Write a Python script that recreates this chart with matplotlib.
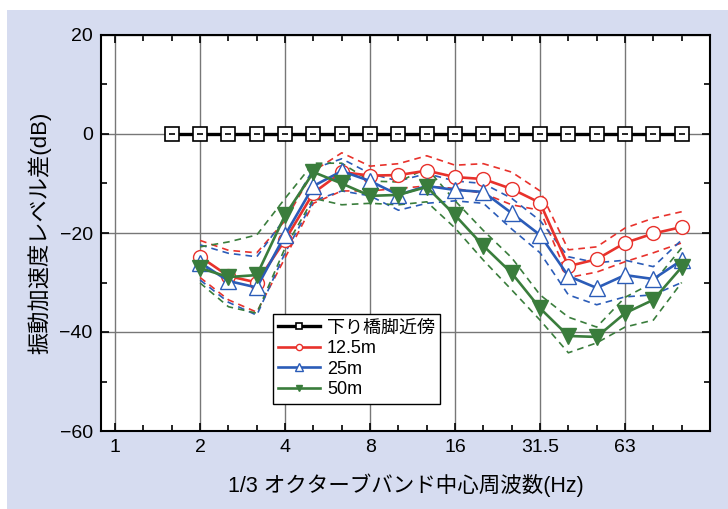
import matplotlib.pyplot as plt
from matplotlib.patches import Rectangle

plt.rcParams['font.family'] = ['Liberation Sans', 'Noto Sans CJK JP', 'DejaVu Sans']

# 1/3 octave band centre frequencies (Hz), positions are band index
bands = ['1', '1.25', '1.6', '2', '2.5', '3.15', '4', '5', '6.3', '8', '10', '12.5',
         '16', '20', '25', '31.5', '40', '50', '63', '80', '100', '125']
major_labels = ['1', '2', '4', '8', '16', '31.5', '63']

ref_bands = bands[2:21]
ref = [0] * len(ref_bands)

data_bands = bands[3:21]
red = [-24.8, -28.7, -30.0, -21.4, -11.9, -7.7, -8.4, -8.3, -7.4, -8.7, -9.1, -11.1,
       -13.9, -26.7, -25.3, -22.0, -20.1, -18.8]
red_hi = [-21.5, -23.5, -24.0, -17.5, -7.5, -3.8, -6.5, -6.0, -4.4, -6.3, -6.0, -7.7,
          -11.5, -23.4, -22.8, -19.0, -17.0, -15.7]
red_lo = [-29.0, -33.5, -36.0, -25.0, -14.0, -11.5, -11.5, -11.0, -10.5, -11.0, -12.0, -14.3,
          -15.4, -29.0, -27.9, -25.8, -24.0, -22.0]
blue = [-26.0, -29.7, -31.0, -20.4, -10.5, -7.5, -9.5, -12.3, -10.5, -11.3, -11.7, -16.0,
        -20.4, -28.7, -31.1, -28.5, -29.3, -25.5]
blue_hi = [-22.4, -24.1, -24.8, -17.0, -7.0, -5.0, -8.0, -9.5, -8.0, -9.5, -10.0, -13.0,
           -17.5, -24.8, -26.0, -25.5, -26.8, -21.4]
blue_lo = [-29.5, -34.0, -36.6, -24.0, -13.5, -11.5, -12.5, -15.4, -14.0, -13.5, -14.0, -19.2,
           -24.0, -32.5, -34.5, -32.9, -32.5, -30.0]
green = [-27.1, -28.9, -28.5, -16.4, -7.7, -10.0, -12.5, -12.3, -10.7, -16.4, -22.6, -28.1,
         -35.2, -40.8, -41.0, -36.2, -33.5, -26.9]
green_hi = [-22.8, -21.8, -20.4, -13.0, -5.9, -5.9, -9.5, -9.7, -6.9, -13.5, -19.5, -25.0,
            -32.5, -37.0, -39.0, -33.0, -30.0, -23.0]
green_lo = [-30.1, -34.9, -36.2, -23.0, -13.0, -14.3, -14.0, -14.3, -13.7, -19.0, -25.5, -31.5,
            -37.6, -44.2, -42.2, -39.0, -37.6, -30.0]

labels = ['下り橋脚近傍', '12.5m', '25m', '50m']
RED = '#e8322c'
BLUE = '#2b5cb8'
GREEN = '#3a7d3c'


def pos(names):
    return [bands.index(n) for n in names]


fig = plt.figure(figsize=(7.28, 5.09), dpi=100)
fig.patches.append(Rectangle((7 / 728, 0), 1, 1 - 10 / 509, transform=fig.transFigure,
                             facecolor='#d6dcf0', edgecolor='none', zorder=-10))
ax = fig.add_axes([101 / 728, 1 - 431 / 509, 609 / 728, 396 / 509])
ax.set_facecolor('white')

xr = pos(ref_bands)
xd = pos(data_bands)

# dashed ranges
for hi, lo, c in [(red_hi, red_lo, RED), (blue_hi, blue_lo, BLUE), (green_hi, green_lo, GREEN)]:
    ax.plot(xd, hi, color=c, lw=1.2, ls=(0, (4, 3)), zorder=3)
    ax.plot(xd, lo, color=c, lw=1.2, ls=(0, (4, 3)), zorder=3)

h0, = ax.plot(xr, ref, color='black', lw=2.4, marker='s', ms=9.5, mfc='white',
              mec='black', mew=1.2, zorder=5)
ax.plot(xr, ref, ls='none', marker='_', ms=5, mec='black', mew=1.2, zorder=6)
h1, = ax.plot(xd, red, color=RED, lw=1.9, marker='o', ms=10, mfc='white', mec=RED,
              mew=1.0, zorder=4)
h2, = ax.plot(xd, blue, color=BLUE, lw=1.9, marker='^', ms=11.5, mfc='white', mec=BLUE,
              mew=1.0, zorder=4.5)
h3, = ax.plot(xd, green, color=GREEN, lw=1.9, marker='v', ms=11, mfc=GREEN, mec=GREEN,
              zorder=4.8)

ax.set_xlim(-0.5, len(bands) - 1)
ax.set_ylim(-60, 20)
ax.set_xticks(pos(major_labels))
ax.set_xticklabels(major_labels)
ax.set_xticks(range(len(bands)), minor=True)
ax.set_yticks([20, 0, -20, -40, -60])
ax.set_yticks(range(-50, 20, 20), minor=True)
ax.tick_params(which='both', direction='in', top=True, right=True, width=1.2, labelsize=14)
ax.tick_params(which='major', length=6, pad=6)
ax.tick_params(which='minor', length=4)
ax.grid(True, which='major', color='#777777', lw=1.0)
for s in ax.spines.values():
    s.set_linewidth(1.5)

ax.set_xlabel('1/3 オクターブバンド中心周波数(Hz)', fontsize=15.5, labelpad=12)
ax.set_ylabel('振動加速度レベル差(dB)', fontsize=16)
ax.yaxis.set_label_coords(-0.082, 0.5)

leg = ax.legend([h0, h1, h2, h3], labels, loc='upper left', bbox_to_anchor=(0.282, 0.295),
                borderaxespad=0, fancybox=False, edgecolor='black', framealpha=1,
                fontsize=13, markerscale=0.45, handlelength=2.3, labelspacing=0.2,
                handletextpad=0.4, borderpad=0.3)
leg.get_frame().set_linewidth(1.0)

fig.savefig('out.png', dpi=100)
